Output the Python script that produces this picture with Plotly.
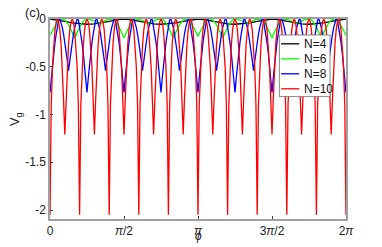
import numpy as np
import plotly.graph_objects as go

# ---------------- data (phi in units of pi) ----------------
labels = ["N=4", "N=6", "N=8", "N=10"]
colors = ["#000000", "#00ff00", "#0000ff", "#ff0000"]

# N=4 (black), samples every pi/20 from 0 to 2pi
vg_n4 = [
    0, -0.01, -0.025, -0.04, -0.05, -0.055, -0.05, -0.04, -0.025, -0.01,
    0, -0.01, -0.025, -0.04, -0.05, -0.055, -0.05, -0.04, -0.025, -0.01,
    0, -0.01, -0.025, -0.04, -0.05, -0.055, -0.05, -0.04, -0.025, -0.01,
    0, -0.01, -0.025, -0.04, -0.05, -0.055, -0.05, -0.04, -0.025, -0.01,
    0,
]

# N=6 (green), samples every pi/60
vg_n6 = [
    -0.17, -0.119, -0.071, -0.034, -0.009, 0, -0.01, -0.04, -0.084, -0.14,
    -0.2, -0.14, -0.084, -0.04, -0.01, 0, -0.003, -0.01, -0.021, -0.035,
    -0.05, -0.035, -0.021, -0.01, -0.003, 0, -0.01, -0.04, -0.084, -0.14,
    -0.2, -0.14, -0.084, -0.04, -0.01, 0, -0.003, -0.01, -0.021, -0.035,
    -0.05, -0.035, -0.021, -0.01, -0.003, 0, -0.01, -0.04, -0.084, -0.14,
    -0.2, -0.14, -0.084, -0.04, -0.01, 0, -0.009, -0.036, -0.076, -0.126,
    -0.18, -0.126, -0.076, -0.036, -0.009, 0, -0.01, -0.04, -0.084, -0.14,
    -0.2, -0.14, -0.084, -0.04, -0.01, 0, -0.003, -0.01, -0.021, -0.035,
    -0.05, -0.035, -0.021, -0.01, -0.003, 0, -0.01, -0.04, -0.084, -0.14,
    -0.2, -0.14, -0.084, -0.04, -0.01, 0, -0.003, -0.01, -0.021, -0.035,
    -0.05, -0.035, -0.021, -0.01, -0.003, 0, -0.01, -0.04, -0.084, -0.14,
    -0.2, -0.14, -0.084, -0.04, -0.01, 0, -0.009, -0.034, -0.071, -0.119,
    -0.17,
]

# N=8 (blue), samples every pi/120
vg_n8 = [
    -0.77, -0.62, -0.48, -0.36, -0.25, -0.16, -0.08, -0.01, 0, -0.04, -0.09, -0.16, -0.24, -0.33, -0.43,
    -0.54, -0.43, -0.33, -0.24, -0.16, -0.09, -0.04, 0, -0.01, -0.08, -0.16, -0.25, -0.36, -0.48, -0.62,
    -0.77, -0.62, -0.48, -0.36, -0.25, -0.16, -0.08, -0.01, 0, -0.04, -0.09, -0.16, -0.24, -0.33, -0.43,
    -0.54, -0.43, -0.33, -0.24, -0.16, -0.09, -0.04, 0, -0.01, -0.08, -0.16, -0.25, -0.36, -0.48, -0.62,
    -0.77, -0.62, -0.48, -0.36, -0.25, -0.16, -0.08, -0.01, 0, -0.04, -0.09, -0.16, -0.24, -0.33, -0.43,
    -0.54, -0.43, -0.33, -0.24, -0.16, -0.09, -0.04, 0, -0.01, -0.08, -0.16, -0.25, -0.36, -0.48, -0.62,
    -0.77, -0.62, -0.48, -0.36, -0.25, -0.16, -0.08, -0.01, 0, -0.04, -0.09, -0.16, -0.24, -0.33, -0.43,
    -0.54, -0.43, -0.33, -0.24, -0.16, -0.09, -0.04, 0, -0.01, -0.08, -0.16, -0.25, -0.36, -0.48, -0.62,
    -0.77, -0.62, -0.48, -0.36, -0.25, -0.16, -0.08, -0.01, 0, -0.04, -0.09, -0.16, -0.24, -0.33, -0.43,
    -0.54, -0.43, -0.33, -0.24, -0.16, -0.09, -0.04, 0, -0.01, -0.08, -0.16, -0.25, -0.36, -0.48, -0.62,
    -0.77, -0.62, -0.48, -0.36, -0.25, -0.16, -0.08, -0.01, 0, -0.04, -0.09, -0.16, -0.24, -0.33, -0.43,
    -0.54, -0.43, -0.33, -0.24, -0.16, -0.09, -0.04, 0, -0.01, -0.08, -0.16, -0.25, -0.36, -0.48, -0.62,
    -0.77, -0.62, -0.48, -0.36, -0.25, -0.16, -0.08, -0.01, 0, -0.04, -0.09, -0.16, -0.24, -0.33, -0.43,
    -0.54, -0.43, -0.33, -0.24, -0.16, -0.09, -0.04, 0, -0.01, -0.08, -0.16, -0.25, -0.36, -0.48, -0.62,
    -0.77, -0.62, -0.48, -0.36, -0.25, -0.16, -0.08, -0.01, 0, -0.04, -0.09, -0.16, -0.24, -0.33, -0.43,
    -0.54, -0.43, -0.33, -0.24, -0.16, -0.09, -0.04, 0, -0.01, -0.08, -0.16, -0.25, -0.36, -0.48, -0.62,
    -0.77,
]

# N=10 (red), samples every pi/120
vg_n10 = [
    -2.05, -0.9, -0.5, -0.28, -0.12, -0.03, 0, -0.03, -0.12, -0.27, -0.5, -0.85,
    -1.21, -0.85, -0.5, -0.27, -0.12, -0.03, 0, -0.03, -0.12, -0.28, -0.5, -0.9,
    -2.05, -0.9, -0.5, -0.28, -0.12, -0.03, 0, -0.03, -0.12, -0.27, -0.5, -0.85,
    -1.21, -0.85, -0.5, -0.27, -0.12, -0.03, 0, -0.03, -0.12, -0.28, -0.5, -0.9,
    -2.05, -0.9, -0.5, -0.28, -0.12, -0.03, 0, -0.03, -0.12, -0.27, -0.5, -0.85,
    -1.21, -0.85, -0.5, -0.27, -0.12, -0.03, 0, -0.03, -0.12, -0.28, -0.5, -0.9,
    -2.05, -0.9, -0.5, -0.28, -0.12, -0.03, 0, -0.03, -0.12, -0.27, -0.5, -0.85,
    -1.21, -0.85, -0.5, -0.27, -0.12, -0.03, 0, -0.03, -0.12, -0.28, -0.5, -0.9,
    -2.05, -0.9, -0.5, -0.28, -0.12, -0.03, 0, -0.03, -0.12, -0.27, -0.5, -0.85,
    -1.21, -0.85, -0.5, -0.27, -0.12, -0.03, 0, -0.03, -0.12, -0.28, -0.5, -0.9,
    -2.05, -0.9, -0.5, -0.28, -0.12, -0.03, 0, -0.03, -0.12, -0.27, -0.5, -0.85,
    -1.21, -0.85, -0.5, -0.27, -0.12, -0.03, 0, -0.03, -0.12, -0.28, -0.5, -0.9,
    -2.05, -0.9, -0.5, -0.28, -0.12, -0.03, 0, -0.03, -0.12, -0.27, -0.5, -0.85,
    -1.21, -0.85, -0.5, -0.27, -0.12, -0.03, 0, -0.03, -0.12, -0.28, -0.5, -0.9,
    -2.05, -0.9, -0.5, -0.28, -0.12, -0.03, 0, -0.03, -0.12, -0.27, -0.5, -0.85,
    -1.21, -0.85, -0.5, -0.27, -0.12, -0.03, 0, -0.03, -0.12, -0.28, -0.5, -0.9,
    -2.05, -0.9, -0.5, -0.28, -0.12, -0.03, 0, -0.03, -0.12, -0.27, -0.5, -0.85,
    -1.21, -0.85, -0.5, -0.27, -0.12, -0.03, 0, -0.03, -0.12, -0.28, -0.5, -0.9,
    -2.05, -0.9, -0.5, -0.28, -0.12, -0.03, 0, -0.03, -0.12, -0.27, -0.5, -0.85,
    -1.21, -0.85, -0.5, -0.27, -0.12, -0.03, 0, -0.03, -0.12, -0.28, -0.5, -0.9,
    -2.05,
]

x_tick_vals = [0, 0.5, 1, 1.5, 2]
x_tick_text = ["0", "<i>π</i>/2", "<i>π</i>", "3<i>π</i>/2", "2<i>π</i>"]
y_tick_vals = [0, -0.5, -1, -1.5, -2]
y_tick_text = ["0", "-0.5", "-1", "-1.5", "-2"]

series = [vg_n4, vg_n6, vg_n8, vg_n10]
LW = 1.3
FONT = "Liberation Sans, Arial, Helvetica, sans-serif"

fig = go.Figure()
for lab, col, ys in zip(labels, colors, series):
    xs = np.linspace(0, 2, len(ys)) * np.pi
    fig.add_trace(go.Scatter(x=xs, y=ys, mode="lines", name=lab, showlegend=False,
                             line=dict(color=col, width=LW)))

# compact boxed legend (MATLAB style), in plot-area fractions
leg_x0, leg_x1, leg_y0, leg_y1 = 0.775, 0.946, 0.612, 0.92
line_x0, line_x1, text_x = 0.781, 0.842, 0.851
row_y = [0.876, 0.801, 0.726, 0.651]
shapes = [dict(type="rect", xref="paper", yref="paper", x0=leg_x0, x1=leg_x1,
               y0=leg_y0, y1=leg_y1, fillcolor="white",
               line=dict(color="#6a6a6a", width=0.8), layer="above")]
annotations = []
for lab, col, ry in zip(labels, colors, row_y):
    shapes.append(dict(type="line", xref="paper", yref="paper", x0=line_x0, x1=line_x1,
                       y0=ry, y1=ry, line=dict(color=col, width=LW), layer="above"))
    annotations.append(dict(text=lab, xref="paper", yref="paper", x=text_x, y=ry,
                            xanchor="left", yanchor="middle", showarrow=False,
                            font=dict(family=FONT, size=12, color="#111")))

axis_common = dict(showline=True, linecolor="#a0a0a0", linewidth=1.5, mirror=True,
                   ticks="inside", ticklen=3, tickcolor="#404040", showgrid=False,
                   zeroline=False, automargin=False,
                   tickfont=dict(family=FONT, size=12, color="#222"))

annotations += [
    dict(text="(c)", xref="paper", yref="paper", x=-0.06, y=1.035,
         xanchor="center", yanchor="middle", showarrow=False,
         font=dict(family=FONT, size=13, color="#222")),
    dict(text="V<sub>g</sub>", xref="paper", yref="paper", x=-0.118, y=0.5,
         xanchor="center", yanchor="middle", showarrow=False, textangle=-90,
         font=dict(family=FONT, size=13, color="#222")),
    dict(text="<i>ϕ</i>", xref="paper", yref="paper", x=0.5, y=-0.085,
         xanchor="center", yanchor="middle", showarrow=False,
         font=dict(family=FONT, size=12, color="#222")),
]

fig.update_layout(
    width=382, height=247,
    margin=dict(l=50, r=36, t=19, b=28),
    plot_bgcolor="white", paper_bgcolor="white",
    showlegend=False,
    xaxis=dict(range=[0, 2 * np.pi], tickvals=[v * np.pi for v in x_tick_vals],
               ticktext=x_tick_text, **axis_common),
    yaxis=dict(range=[-2.094, 0], tickvals=y_tick_vals, ticktext=y_tick_text,
               **axis_common),
    shapes=shapes,
    annotations=annotations,
)

# remove the default page margin so the figure fills the window exactly
fig.write_html("out.html", config={"displayModeBar": False},
               post_script="document.body.style.margin='0';document.body.style.padding='0';")
